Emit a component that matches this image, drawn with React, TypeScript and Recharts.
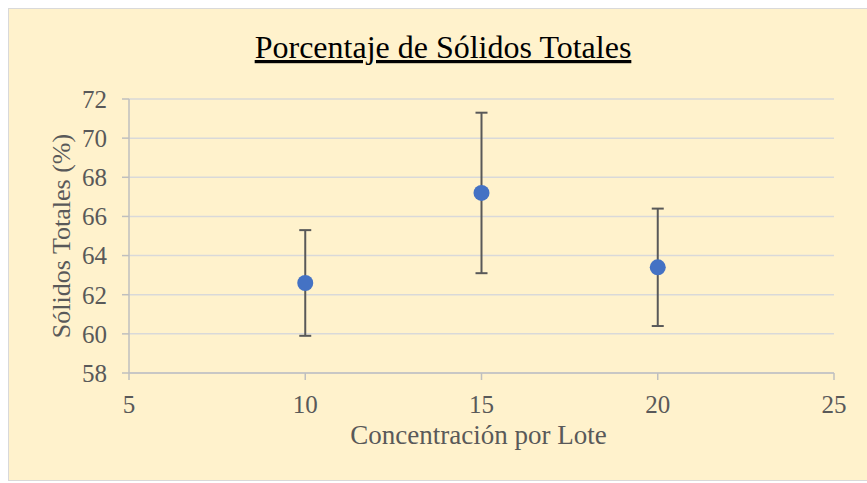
import { ScatterChart, Scatter, XAxis, YAxis, CartesianGrid, ErrorBar, Label } from "recharts";

const concentrations = [10, 15, 20];
const solids = [62.6, 67.2, 63.4];
const deviations = [2.7, 4.1, 3.0];

const xTicks = [5, 10, 15, 20, 25];
const yTicks = [58, 60, 62, 64, 66, 68, 70, 72];

const FONT = "Liberation Serif, Times New Roman, serif";
const GREY_TEXT = "#595959";

const data = concentrations.map((c, i) => ({ x: c, y: solids[i], err: deviations[i] }));

function Dot(props: any) {
  return <circle cx={props.cx} cy={props.cy} r={8} fill="#4472C4" />;
}

function YTitle(props: any) {
  const vb = props.viewBox;
  const cx = vb.x + 2;
  const cy = vb.y + vb.height / 2;
  return (
    <text
      x={cx}
      y={cy}
      transform={`rotate(-90, ${cx}, ${cy})`}
      textAnchor="middle"
      dominantBaseline="central"
      fontSize={26}
      fill={GREY_TEXT}
      fontFamily={FONT}
    >
      Sólidos Totales (%)
    </text>
  );
}

function XTitle(props: any) {
  const vb = props.viewBox;
  return (
    <text
      x={vb.x + vb.width / 2 - 3}
      y={vb.y + 71}
      textAnchor="middle"
      fontSize={27}
      fill={GREY_TEXT}
      fontFamily={FONT}
    >
      Concentración por Lote
    </text>
  );
}

export default function App() {
  return (
    <div style={{ position: "relative", width: 867, height: 483, background: "#fff" }}>
      <style>{"body{margin:0;overflow:hidden}"}</style>
      <div
        style={{
          position: "absolute",
          left: 8,
          top: 8,
          width: 859,
          height: 473,
          boxSizing: "border-box",
          background: "#fff2cc",
          border: "1px solid #d9d9d9",
          borderRight: "none",
        }}
      >
        <svg width={857} height={70} style={{ position: "absolute", left: 0, top: 0 }}>
          <text
            x={434}
            y={49}
            textAnchor="middle"
            fontSize={32}
            fontFamily={FONT}
            fill="#000"
            textDecoration="underline"
          >
            Porcentaje de Sólidos Totales
          </text>
        </svg>
        <ScatterChart
          width={857}
          height={471}
          margin={{ top: 90, right: 32, bottom: 57, left: 50 }}
          style={{ position: "absolute", left: 0, top: 0 }}
        >
          <CartesianGrid horizontal vertical={false} stroke="#d9d9d9" strokeWidth={1.5} />
          <XAxis
            type="number"
            dataKey="x"
            domain={[5, 25]}
            ticks={xTicks}
            height={50}
            tickSize={7}
            tickMargin={15}
            stroke="#bfbfbf"
            strokeWidth={1.5}
            tick={{ fill: GREY_TEXT, fontSize: 25, fontFamily: FONT }}
          >
            <Label content={<XTitle />} />
          </XAxis>
          <YAxis
            type="number"
            dataKey="y"
            domain={[58, 72]}
            ticks={yTicks}
            width={70}
            tickSize={7}
            tickMargin={15}
            stroke="#bfbfbf"
            strokeWidth={1.5}
            tick={{ fill: GREY_TEXT, fontSize: 25, fontFamily: FONT }}
          >
            <Label content={<YTitle />} />
          </YAxis>
          <Scatter data={data} shape={<Dot />} isAnimationActive={false}>
            <ErrorBar dataKey="err" direction="y" width={6} stroke="#595959" strokeWidth={2} isAnimationActive={false} />
          </Scatter>
        </ScatterChart>
      </div>
    </div>
  );
}
